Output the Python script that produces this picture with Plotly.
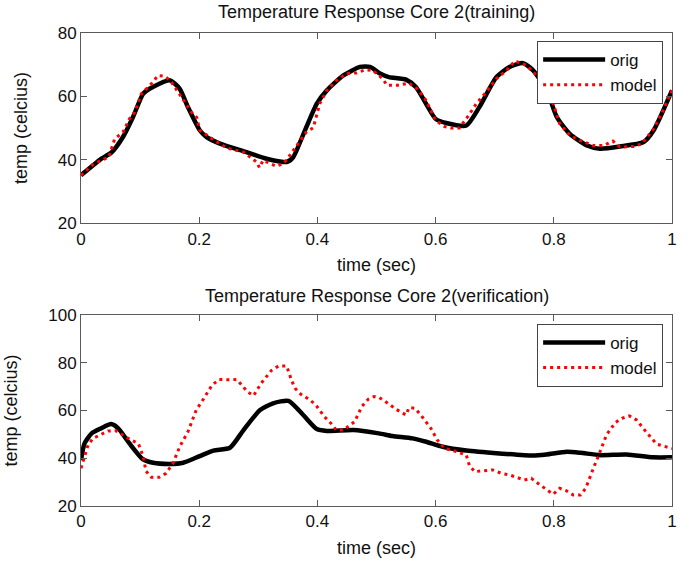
import plotly.graph_objects as go
from plotly.subplots import make_subplots

# ---------------- data ----------------
train_orig_x = [0, 0.02, 0.034, 0.051, 0.071, 0.088, 0.105, 0.116, 0.15, 0.167, 0.181, 0.201, 0.212,
                0.235, 0.28, 0.314, 0.348, 0.359, 0.379, 0.399, 0.416, 0.444, 0.472, 0.489, 0.506,
                0.521, 0.55, 0.567, 0.6, 0.618, 0.652, 0.674, 0.703, 0.725, 0.748, 0.765, 0.788,
                0.805, 0.827, 0.856, 0.878, 0.912, 0.952, 0.969, 1.0]
train_orig_y = [35.1, 38.2, 40.3, 42.2, 47.2, 53.5, 60.8, 62.4, 65.1, 62.4, 56.6, 49.3, 47.2,
                45.1, 42.4, 40.3, 39.3, 40.8, 49.3, 57.7, 61.9, 66.6, 69.3, 69.3, 67.2,
                66.1, 65.3, 62.9, 52.9, 51.6, 50.8, 56.6, 66.1, 69.3, 70.5, 68.2, 61.9,
                53.5, 48.2, 44.5, 43.5, 44.2, 45.6, 49.3, 61.9]

train_model_x = [0, 0.02, 0.034, 0.047, 0.057, 0.071, 0.082, 0.091, 0.102, 0.122, 0.13, 0.143, 0.153,
                 0.172, 0.187, 0.196, 0.201, 0.224, 0.247, 0.275, 0.297, 0.302, 0.308, 0.33, 0.342,
                 0.351, 0.359, 0.367, 0.381, 0.393, 0.399, 0.404, 0.416, 0.432, 0.449, 0.466, 0.481,
                 0.494, 0.51, 0.518, 0.535, 0.555, 0.569, 0.584, 0.6, 0.615, 0.626, 0.64, 0.654,
                 0.669, 0.683, 0.703, 0.72, 0.734, 0.754, 0.771, 0.788, 0.799, 0.81, 0.827, 0.844,
                 0.867, 0.884, 0.9, 0.912, 0.935, 0.949, 0.969, 0.985, 1.0]
train_model_y = [35.1, 38.5, 39.8, 40.8, 46.6, 48.7, 52.9, 55.0, 60.8, 64.5, 66.6, 66.3, 64.5,
                 59.3, 55.0, 53.3, 49.3, 46.3, 43.7, 42.4, 39.3, 37.5, 39.8, 38.0, 38.7,
                 40.8, 42.9, 45.1, 48.7, 50.1, 54.5, 57.7, 61.9, 65.0, 67.2, 67.4, 68.4,
                 68.2, 65.6, 63.5, 63.5, 64.2, 62.4, 58.7, 52.4, 50.5, 50.0, 50.0, 53.5,
                 57.7, 60.8, 65.6, 68.2, 71.2, 69.8, 66.6, 61.4, 57.7, 51.4, 47.7, 46.1,
                 44.5, 44.5, 45.9, 44.0, 44.2, 45.0, 49.8, 55.6, 61.9]

ver_orig_x = [0, 0.006, 0.018, 0.034, 0.051, 0.063, 0.082, 0.105, 0.122, 0.15, 0.173, 0.201, 0.224,
              0.252, 0.275, 0.303, 0.325, 0.351, 0.376, 0.399, 0.416, 0.461, 0.504, 0.527, 0.561,
              0.584, 0.612, 0.652, 0.708, 0.765, 0.788, 0.822, 0.845, 0.878, 0.923, 0.968, 1.0]
ver_orig_y = [39.2, 46.2, 50.4, 52.5, 54.3, 52.5, 46.2, 39.5, 38.1, 37.6, 38.1, 40.9, 43.2,
              44.4, 51.8, 60.2, 63.0, 64.0, 58.1, 52.2, 51.4, 51.8, 50.4, 49.3, 48.3,
              46.9, 44.8, 43.2, 42.0, 41.1, 41.6, 42.7, 42.3, 41.3, 41.6, 40.4, 40.4]

ver_model_x = [0, 0.004, 0.012, 0.02, 0.032, 0.046, 0.059, 0.071, 0.085, 0.097, 0.105, 0.11, 0.119,
               0.132, 0.144, 0.156, 0.167, 0.181, 0.195, 0.208, 0.222, 0.234, 0.252, 0.263, 0.272,
               0.281, 0.292, 0.305, 0.322, 0.334, 0.348, 0.356, 0.362, 0.372, 0.383, 0.396, 0.412,
               0.424, 0.432, 0.444, 0.452, 0.463, 0.475, 0.486, 0.496, 0.504, 0.521, 0.533, 0.55,
               0.555, 0.565, 0.575, 0.592, 0.603, 0.615, 0.637, 0.652, 0.657, 0.666, 0.68, 0.697,
               0.711, 0.725, 0.75, 0.762, 0.773, 0.785, 0.799, 0.81, 0.821, 0.833, 0.845, 0.854,
               0.861, 0.869, 0.875, 0.884, 0.889, 0.904, 0.915, 0.928, 0.94, 0.956, 0.974, 1.0]
ver_model_y = [35.8, 39.2, 45.5, 48.3, 49.7, 51.4, 51.5, 49.7, 47.6, 46.2, 40.9, 34.6, 32.0,
               32.0, 33.7, 38.1, 44.8, 51.1, 60.2, 65.1, 70.7, 73.0, 72.8, 73.0, 70.7,
               67.9, 66.2, 71.4, 76.7, 78.6, 78.6, 72.8, 69.3, 66.8, 65.1, 62.7, 57.4,
               54.3, 51.8, 51.8, 53.2, 55.3, 61.6, 64.7, 65.8, 65.5, 62.7, 60.5, 58.1,
               61.2, 60.9, 58.1, 52.5, 47.6, 44.1, 42.7, 41.3, 37.1, 34.4, 34.8, 35.1,
               33.7, 33.0, 30.9, 31.6, 29.5, 27.4, 24.9, 27.4, 26.4, 24.6, 24.6, 27.4,
               32.3, 37.1, 40.6, 46.2, 49.7, 54.9, 56.7, 57.7, 56.0, 51.1, 45.9, 44.1]

x_ticks = [0, 0.2, 0.4, 0.6, 0.8, 1]
x_ticktext = ["0", "0.2", "0.4", "0.6", "0.8", "1"]
y_ticks_top = [20, 40, 60, 80]
y_ticks_bottom = [20, 40, 60, 80, 100]

titles = ["Temperature Response Core 2(training)", "Temperature Response Core 2(verification)"]
x_title = "time (sec)"
y_title = "temp (celcius)"

# ---------------- figure ----------------
FONT = "Liberation Sans, Arial, sans-serif"
AX = "#5a5a5a"
TXT = "#111111"

fig = make_subplots(rows=2, cols=1, vertical_spacing=0.194)

fig.add_trace(go.Scatter(x=train_orig_x, y=train_orig_y, mode="lines", name="orig",
                         line=dict(color="black", width=4.5, shape="spline", smoothing=0.6),
                         legend="legend"), row=1, col=1)
fig.add_trace(go.Scatter(x=train_model_x, y=train_model_y, mode="lines", name="model",
                         line=dict(color="#ff0000", width=3, dash="3px,4px"),
                         legend="legend"), row=1, col=1)
fig.add_trace(go.Scatter(x=ver_orig_x, y=ver_orig_y, mode="lines", name="orig",
                         line=dict(color="black", width=4.5, shape="spline", smoothing=0.6),
                         legend="legend2"), row=2, col=1)
fig.add_trace(go.Scatter(x=ver_model_x, y=ver_model_y, mode="lines", name="model",
                         line=dict(color="#ff0000", width=3, dash="3px,4px"),
                         legend="legend2"), row=2, col=1)

axis_common = dict(showline=True, linecolor=AX, linewidth=1, mirror="ticks",
                   ticks="inside", ticklen=6, tickcolor=AX, showgrid=False, zeroline=False,
                   tickfont=dict(size=17, color=TXT))

for r in (1, 2):
    fig.update_xaxes(range=[0, 1], tickvals=x_ticks, ticktext=x_ticktext,
                     title=dict(text=x_title, font=dict(size=18, color=TXT), standoff=10),
                     row=r, col=1, **axis_common)

fig.update_yaxes(range=[20, 80], tickvals=y_ticks_top, row=1, col=1,
                 title=dict(text=y_title, font=dict(size=18, color=TXT), standoff=25),
                 **axis_common)
fig.update_yaxes(range=[20, 100], tickvals=y_ticks_bottom, row=2, col=1,
                 title=dict(text=y_title, font=dict(size=18, color=TXT), standoff=25),
                 **axis_common)

fig.update_layout(xaxis=dict(domain=[0, 1]), yaxis=dict(domain=[0.598, 1.0]),
                  xaxis2=dict(domain=[0, 1]), yaxis2=dict(domain=[0.0, 0.404]))

legend_common = dict(bgcolor="white", bordercolor="#444", borderwidth=1,
                     font=dict(size=17, color=TXT, family=FONT), itemwidth=62,
                     xanchor="right", yanchor="top", tracegroupgap=0)

fig.update_layout(
    width=694, height=565,
    margin=dict(l=81, r=22, t=33, b=59),
    paper_bgcolor="white", plot_bgcolor="white",
    font=dict(family=FONT, color=TXT),
    legend=dict(x=0.985, y=0.983, **legend_common),
    legend2=dict(x=0.985, y=0.385, **legend_common),
    annotations=[
        dict(text=titles[0], x=0.5, y=1.044, xref="paper", yref="paper",
             showarrow=False, font=dict(size=18, color=TXT), xanchor="center", yanchor="middle"),
        dict(text=titles[1], x=0.5, y=0.444, xref="paper", yref="paper",
             showarrow=False, font=dict(size=18, color=TXT), xanchor="center", yanchor="middle"),
    ],
)

fig.write_html("out.html")
